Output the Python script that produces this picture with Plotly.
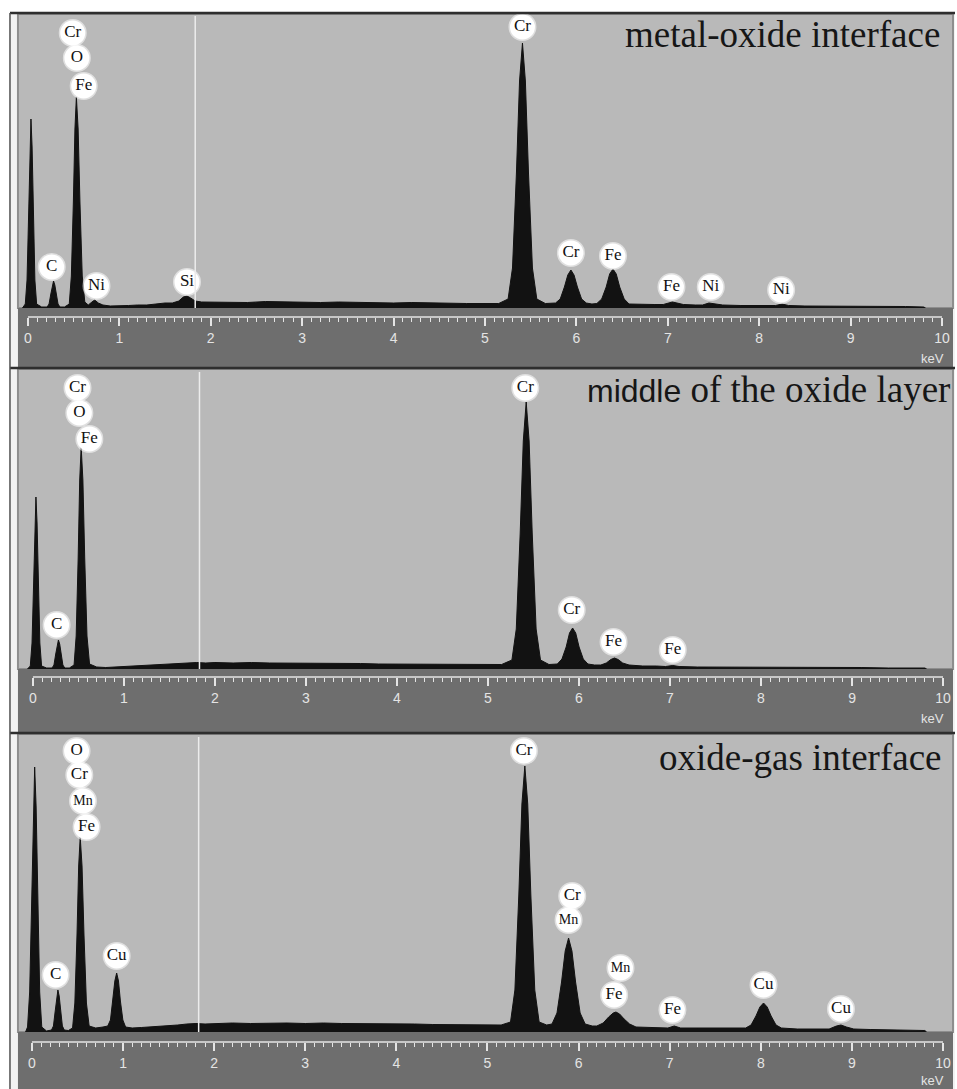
import plotly.graph_objects as go

W, H = 957, 1089

# ---------------- data (energy in keV, counts in arbitrary units) ----------------
energy_1 = [-0.06, -0.029, -0.010, 0.007, 0.0205, 0.033, 0.0455, 0.059, 0.076, 0.095, 0.15,
            0.21, 0.231, 0.2505, 0.266, 0.28, 0.294, 0.3095, 0.329, 0.35,
            0.40, 0.452, 0.475, 0.497, 0.514, 0.53, 0.549, 0.569, 0.594, 0.622,
            0.66, 0.70, 0.73, 0.77, 0.82,
            0.9, 1.0, 1.1, 1.2, 1.3, 1.4, 1.5, 1.58, 1.65, 1.70, 1.74, 1.78, 1.83, 1.9, 2.0,
            2.2, 2.4, 2.6, 2.8, 3.0, 3.2, 3.4, 3.6, 3.8, 4.0, 4.2, 4.4, 4.6, 4.8, 5.0, 5.15,
            5.253, 5.301, 5.344, 5.378, 5.41, 5.442, 5.476, 5.519, 5.567,
            5.66,
            5.772, 5.823, 5.869, 5.906, 5.94, 5.974, 6.011, 6.057, 6.108,
            6.17,
            6.224, 6.277, 6.326, 6.364, 6.40, 6.436, 6.474, 6.523, 6.576,
            6.7, 6.85, 6.95, 7.0, 7.05, 7.10, 7.17, 7.3, 7.38, 7.45, 7.52, 7.6, 7.8, 8.0,
            8.18, 8.25, 8.32, 8.5, 8.8, 9.0, 9.3, 9.6, 9.8, 9.82]
counts_1 = [0, 4, 28, 95, 161, 189, 161, 95, 28, 4, 1,
            1, 4, 14, 23, 27, 23, 14, 4, 1,
            1, 4, 32, 106, 179, 211, 179, 106, 32, 6,
            3, 6, 8, 5, 3,
            2, 2, 2.5, 3, 3, 4, 5, 5, 7, 11, 12, 10, 7, 6, 6,
            6, 5.5, 6.5, 6, 6, 5.5, 6, 5.5, 5.5, 5, 5.5, 5, 5, 4.5, 4.5, 4.5,
            9, 40, 135, 227, 265, 227, 135, 40, 9,
            4.5,
            5, 9, 21, 33, 38, 33, 21, 9, 5,
            4,
            4.5, 9, 21, 34, 39, 34, 21, 9, 4,
            3.5, 3.5, 3.5, 5, 6, 5, 3.5, 3, 3, 5, 4, 3, 2.5, 2.5,
            2.5, 4, 2.5, 2, 2, 2, 1.5, 1.5, 1, 0]

energy_2 = [-0.06, -0.029, -0.010, 0.007, 0.0205, 0.033, 0.0455, 0.059, 0.076, 0.095, 0.15,
            0.21, 0.231, 0.2505, 0.266, 0.28, 0.294, 0.3095, 0.329, 0.35,
            0.40, 0.452, 0.475, 0.497, 0.514, 0.53, 0.549, 0.569, 0.594, 0.622,
            0.7, 0.8, 0.9, 1.0, 1.1, 1.2, 1.3, 1.4, 1.5, 1.6, 1.7, 1.8, 1.9, 2.0,
            2.2, 2.4, 2.6, 2.8, 3.0, 3.2, 3.4, 3.6, 3.8, 4.0, 4.2, 4.4, 4.6, 4.8, 5.0, 5.15,
            5.263, 5.311, 5.354, 5.388, 5.42, 5.452, 5.486, 5.529, 5.577,
            5.67,
            5.762, 5.813, 5.859, 5.896, 5.93, 5.964, 6.001, 6.047, 6.098,
            6.17,
            6.24, 6.30, 6.35, 6.39, 6.43, 6.48, 6.55,
            6.7, 6.85, 6.95, 7.03, 7.10, 7.3, 7.6, 7.9, 8.2, 8.5, 8.8, 9.1, 9.4, 9.8, 9.82]
counts_2 = [0, 3, 26, 86, 146, 172, 146, 86, 26, 3, 1,
            1, 4, 15, 25, 29, 25, 15, 4, 1,
            1, 4, 33, 111, 189, 222, 189, 111, 33, 5,
            2, 1.5, 2, 2, 2.5, 3, 3.5, 4, 5, 5.5, 6, 6.5, 6, 6.5,
            6, 6.5, 6, 6, 6, 5.5, 5.5, 5.5, 5, 5, 5, 5, 4.5, 4.5, 4.5, 4.5,
            9, 40, 136, 228, 267, 228, 136, 40, 9,
            4.5,
            5, 10, 22, 36, 41, 36, 22, 10, 5,
            4,
            4, 6, 9.5, 11, 9.5, 6, 4,
            3, 3, 2.5, 3.5, 2.5, 2, 2, 1.5, 1.5, 1.5, 1.5, 1.5, 1, 1, 0]

energy_3 = [-0.07, -0.048, -0.025, -0.003, 0.014, 0.03, 0.046, 0.063, 0.085, 0.108, 0.16,
            0.215, 0.236, 0.2555, 0.271, 0.285, 0.299, 0.3145, 0.334, 0.355,
            0.40, 0.446, 0.471, 0.495, 0.513, 0.53, 0.55, 0.571, 0.598, 0.628,
            0.7, 0.78,
            0.832, 0.862, 0.889, 0.91, 0.93, 0.95, 0.971, 0.998, 1.028,
            1.1, 1.2, 1.3, 1.4, 1.5, 1.6, 1.7, 1.8, 1.9, 2.0,
            2.2, 2.4, 2.6, 2.8, 3.0, 3.2, 3.4, 3.6, 3.8, 4.0, 4.2, 4.4, 4.6, 4.8, 5.0, 5.15,
            5.253, 5.301, 5.344, 5.378, 5.41, 5.442, 5.476, 5.519, 5.567,
            5.65,
            5.708, 5.763, 5.813, 5.853, 5.89, 5.927, 5.967, 6.017, 6.072,
            6.15,
            6.2, 6.27, 6.33, 6.38, 6.41, 6.45, 6.50, 6.56, 6.63,
            6.75, 6.9, 6.98, 7.05, 7.12, 7.3, 7.5, 7.7,
            7.834, 7.893, 7.947, 7.99, 8.03, 8.07, 8.113, 8.167, 8.226,
            8.4, 8.6, 8.75, 8.83, 8.88, 8.94, 9.02, 9.2, 9.4, 9.6, 9.8, 9.82]
counts_3 = [0, 5, 40, 133, 225, 265, 225, 133, 40, 5, 1,
            2, 6, 21, 36, 42, 36, 21, 6, 2,
            1.5, 4, 29, 98, 166, 195, 166, 98, 29, 6,
            4, 5,
            6, 12, 31, 51, 59, 51, 31, 12, 5,
            4, 4.5, 5, 5.5, 6, 7, 8, 8.5, 8, 8.5,
            9, 8.5, 9, 9, 8.5, 9, 8.5, 8.5, 8, 8, 8, 7.5, 7.5, 7, 7, 7,
            10, 42, 137, 228, 266, 228, 137, 42, 10,
            7,
            8, 19, 50, 81, 94, 81, 50, 19, 8,
            6,
            6, 9, 15, 19, 20, 18, 13, 8, 5,
            4.5, 4.5, 4, 6, 4, 4, 4, 3.5,
            4, 7, 16, 25, 29, 25, 16, 7, 4,
            3, 3, 3, 6, 7, 5, 3, 2.5, 2, 2, 1.5, 0]

labels_1 = ["Cr", "O", "Fe", "C", "Ni", "Si", "Cr", "Cr", "Fe", "Fe", "Ni", "Ni"]
label_kev_1 = [0.49, 0.535, 0.61, 0.26, 0.75, 1.74, 5.41, 5.94, 6.40, 7.04, 7.47, 8.24]
label_cnt_1 = [275, 250, 222, 41, 22, 26, 281, 55, 52, 21, 21, 18]

labels_2 = ["Cr", "O", "Fe", "C", "Cr", "Cr", "Fe", "Fe"]
label_kev_2 = [0.49, 0.51, 0.62, 0.26, 5.41, 5.92, 6.38, 7.03]
label_cnt_2 = [281, 256, 230, 44, 281, 59, 27, 19]

labels_3 = ["O", "Cr", "Mn", "Fe", "C", "Cu", "Cr", "Cr", "Mn", "Mn", "Fe", "Fe", "Cu", "Cu"]
label_kev_3 = [0.49, 0.52, 0.56, 0.60, 0.26, 0.93, 5.40, 5.93, 5.89, 6.46, 6.39, 7.03, 8.03, 8.88]
label_cnt_3 = [281, 257, 231, 205, 57, 76, 281, 136, 112, 64, 37, 22, 47, 23]

tick_values = [0, 1, 2, 3, 4, 5, 6, 7, 8, 9, 10]
tick_text = ["0", "1", "2", "3", "4", "5", "6", "7", "8", "9", "10"]
axis_unit = "keV"
marker_kev = 1.83

titles = [
    "metal-oxide interface",
    '<span style="font-family:\'Liberation Sans\', Arial, sans-serif;font-size:32px">middle</span> of the oxide layer',
    "oxide-gas interface",
]

# ---------------- layout geometry (pixels) ----------------
panels = [
    dict(top=13, plot_top=16, base=308, axis=317, bottom=368, x0=28, s=91.6, unit_y=358, title_y=35, title_x=944),
    dict(top=368, plot_top=372, base=669, axis=677, bottom=733, x0=33, s=91.2, unit_y=718, title_y=389, title_x=954),
    dict(top=733, plot_top=737, base=1032, axis=1042, bottom=1089, x0=32, s=91.3, unit_y=1080, title_y=757, title_x=946),
]
spectra = [(energy_1, counts_1), (energy_2, counts_2), (energy_3, counts_3)]
label_sets = [(labels_1, label_kev_1, label_cnt_1), (labels_2, label_kev_2, label_cnt_2),
              (labels_3, label_kev_3, label_cnt_3)]


def fx(px):
    return px / W


def fy(py):
    return 1 - py / H


PLOT_L, PLOT_R = 20, 951
tick_col = "#e4e4e4"
bg_col = "#b9b9b9"
band_col = "#6e6e6e"

fig = go.Figure()
shapes = []
annotations = []
layout_axes = {}

for i, p in enumerate(panels):
    n = "" if i == 0 else str(i + 1)
    xa, ya = "x" + n, "y" + n
    E, C = spectra[i]
    fig.add_trace(go.Scatter(x=E, y=C, mode="lines", line=dict(color="#121212", width=1),
                             fill="tozeroy", fillcolor="#121212", xaxis=xa, yaxis=ya,
                             hoverinfo="skip", showlegend=False))
    lab, lk, lc = label_sets[i]
    fig.add_trace(go.Scatter(
        x=lk, y=lc, mode="markers+text", text=lab, textposition="middle center",
        marker=dict(size=25, color="white", line=dict(color="rgba(255,255,255,0.55)", width=3)),
        textfont=dict(family="Liberation Serif, Times New Roman, serif",
                      size=[14 if t == "Mn" else 17 for t in lab], color="#111111"),
        cliponaxis=False, xaxis=xa, yaxis=ya, hoverinfo="skip", showlegend=False))

    layout_axes["xaxis" + n] = dict(
        domain=[fx(PLOT_L), fx(PLOT_R)],
        range=[(PLOT_L - p["x0"]) / p["s"], (PLOT_R - p["x0"]) / p["s"]],
        anchor="free", position=fy(p["axis"]), side="bottom",
        showline=False, showgrid=False, zeroline=False,
        ticks="outside", ticklen=8, tickwidth=1.5, tickcolor=tick_col,
        tickmode="array", tickvals=tick_values, ticktext=tick_text,
        tickfont=dict(family="Liberation Sans, Arial, sans-serif", size=14, color=tick_col),
        minor=dict(tickmode="array", tickvals=[k / 10 for k in range(101)], ticks="outside",
                   ticklen=4, tickwidth=1, tickcolor=tick_col, showgrid=False),
        fixedrange=True,
    )
    layout_axes["yaxis" + n] = dict(
        domain=[fy(p["base"]), fy(p["plot_top"])],
        range=[0, p["base"] - p["plot_top"]],
        anchor=xa, visible=False, fixedrange=True,
    )

    # panel backgrounds
    shapes.append(dict(type="rect", xref="paper", yref="paper", x0=fx(10), x1=fx(957),
                       y0=fy(p["bottom"]), y1=fy(p["top"]), fillcolor="#f2f2f2",
                       line=dict(width=0), layer="below"))
    shapes.append(dict(type="rect", xref="paper", yref="paper", x0=fx(18), x1=fx(955),
                       y0=fy(p["base"]), y1=fy(p["top"] + 1), fillcolor=bg_col,
                       line=dict(color="#8e8e8e", width=2), layer="below"))
    shapes.append(dict(type="rect", xref="paper", yref="paper", x0=fx(18), x1=fx(955),
                       y0=fy(p["bottom"]), y1=fy(p["base"]), fillcolor=band_col,
                       line=dict(width=0), layer="below"))
    # top border of the panel
    shapes.append(dict(type="line", xref="paper", yref="paper", x0=fx(10), x1=fx(957),
                       y0=fy(p["top"]), y1=fy(p["top"]), line=dict(color="#2e2e2e", width=2.5)))
    # axis line from 0 to 10 keV
    shapes.append(dict(type="line", xref=xa, yref="paper", x0=tick_values[0], x1=tick_values[-1],
                       y0=fy(p["axis"]), y1=fy(p["axis"]), line=dict(color=tick_col, width=1.5)))
    # white energy marker
    shapes.append(dict(type="line", xref=xa, yref="paper", x0=marker_kev, x1=marker_kev,
                       y0=fy(p["base"]), y1=fy(p["plot_top"]), line=dict(color="#ececec", width=1.5),
                       layer="above"))

    annotations.append(dict(xref="paper", yref="paper", x=fx(p["title_x"]), y=fy(p["title_y"]),
                            xanchor="right", yanchor="middle", showarrow=False, text=titles[i],
                            font=dict(family="Liberation Serif, Times New Roman, serif", size=37,
                                      color="#161616")))
    annotations.append(dict(xref="paper", yref="paper", x=fx(948), y=fy(p["unit_y"]),
                            xanchor="right", yanchor="middle", showarrow=False, text=axis_unit,
                            font=dict(family="Liberation Sans, Arial, sans-serif", size=13,
                                      color=tick_col)))

# outer left border
shapes.append(dict(type="line", xref="paper", yref="paper", x0=fx(10), x1=fx(10),
                   y0=fy(H), y1=fy(13), line=dict(color="#505050", width=1.5)))

fig.update_layout(
    width=W, height=H, margin=dict(l=0, r=0, t=0, b=0),
    paper_bgcolor="white", plot_bgcolor="rgba(0,0,0,0)",
    showlegend=False, shapes=shapes, annotations=annotations,
    **layout_axes,
)

fig.write_html("out.html")
